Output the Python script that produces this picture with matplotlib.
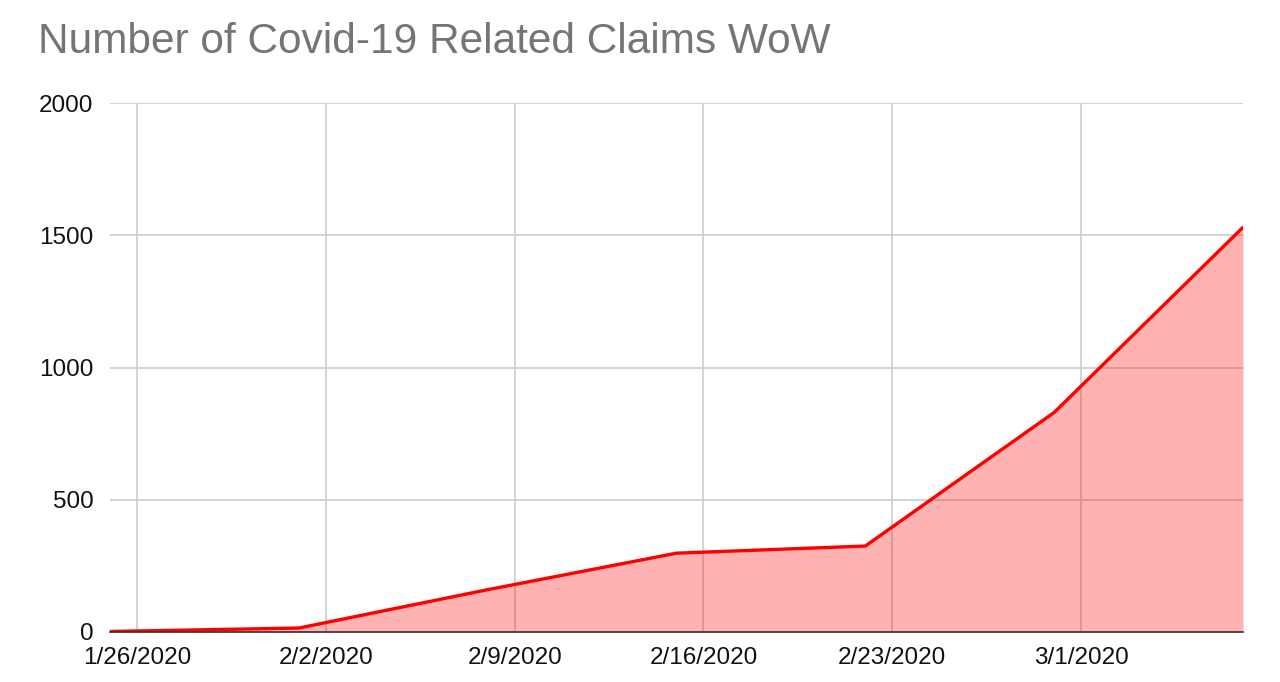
import matplotlib.pyplot as plt
import matplotlib.dates as mdates
import pandas as pd

# weekly claim counts (week start dates)
week_dates = ["2020-01-25", "2020-02-01", "2020-02-08", "2020-02-15",
              "2020-02-22", "2020-02-29", "2020-03-07"]
claims = [2, 15, 160, 298, 325, 830, 1530]
tick_dates = ["2020-01-26", "2020-02-02", "2020-02-09", "2020-02-16",
              "2020-02-23", "2020-03-01"]
tick_labels = ["1/26/2020", "2/2/2020", "2/9/2020", "2/16/2020", "2/23/2020", "3/1/2020"]
y_ticks = [0, 500, 1000, 1500, 2000]

plt.rcParams["font.family"] = ["Liberation Sans", "DejaVu Sans"]

dates = pd.to_datetime(week_dates)
ticks = pd.to_datetime(tick_dates)

fig = plt.figure(figsize=(12.8, 6.82), dpi=100)
ax = fig.add_axes([110 / 1280, 1 - 632 / 682, (1243 - 110) / 1280, (632 - 103) / 682])

ax.fill_between(dates, claims, 0, color="#ff0000", alpha=0.3, linewidth=0, zorder=2)
ax.plot(dates, claims, color="#ff0000", linewidth=2.4, zorder=3, solid_capstyle="round")

ax.set_xlim(dates[0], dates[-1])
ax.set_ylim(0, 2000)
ax.set_yticks(y_ticks)
ax.set_yticklabels([str(v) for v in y_ticks])
ax.set_xticks(ticks)
ax.set_xticklabels(tick_labels)

ax.grid(True, color="#cccccc", linewidth=1.2, zorder=1)
ax.set_axisbelow(True)
for side in ["top", "right", "left"]:
    ax.spines[side].set_visible(False)
ax.spines["bottom"].set_color("#333333")
ax.spines["bottom"].set_linewidth(1.2)
ax.spines["bottom"].set_zorder(4)

ax.tick_params(axis="both", length=0, labelsize=17.5, colors="#111111")
ax.tick_params(axis="y", pad=12)
ax.tick_params(axis="x", pad=11)

fig.text(38 / 1280, 1 - 42 / 682, "Number of Covid-19 Related Claims WoW",
         fontsize=30.5, color="#757575", ha="left", va="center")

fig.savefig("out.png", dpi=100)
plt.close(fig)
